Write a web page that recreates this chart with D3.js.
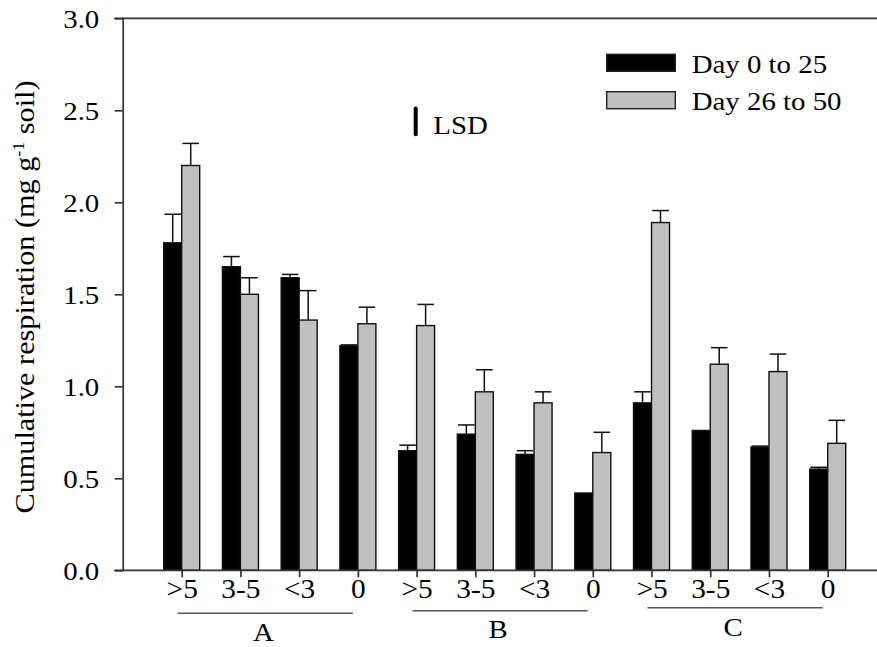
<!DOCTYPE html>
<html>
<head>
<meta charset="utf-8">
<script src="https://cdn.jsdelivr.net/npm/d3@7"></script>
<style>
  body { margin: 0; background: #fff; }
  text { font-family: "Liberation Serif", "Times New Roman", serif; fill: #000; }
</style>
</head>
<body>
<div id="chart"></div>
<script>
// data
var sizes = [">5", "3-5", "<3", "0", ">5", "3-5", "<3", "0", ">5", "3-5", "<3", "0"];
var groups = ["A", "B", "C"];
var day0to25 = [1.78, 1.65, 1.59, 1.22, 0.65, 0.74, 0.63, 0.42, 0.91, 0.76, 0.67, 0.55];
var day0to25Err = [0.155, 0.055, 0.018, 0.005, 0.03, 0.05, 0.02, 0, 0.06, 0, 0.005, 0.01];
var day26to50 = [2.20, 1.50, 1.36, 1.34, 1.33, 0.97, 0.91, 0.64, 1.89, 1.12, 1.08, 0.69];
var day26to50Err = [0.12, 0.09, 0.16, 0.09, 0.115, 0.12, 0.06, 0.11, 0.065, 0.09, 0.095, 0.125];
var seriesNames = ["Day 0 to 25", "Day 26 to 50"];
var yTicks = [0, 0.5, 1.0, 1.5, 2.0, 2.5, 3.0];
var lsd = {y: 2.37, value: 0.14};

var W = 877, H = 647;
var stretch = 1.11;   // the figure's serif type is a bit wider than Times
var fs = 26;

var svg = d3.select("#chart").append("svg")
    .attr("width", W)
    .attr("height", H);

var y = d3.scaleLinear().domain([0, 3]).range([570.3, 18.3]);
var x = d3.scalePoint().domain(d3.range(sizes.length)).range([181.7, 827.7]);
var barW = 18;
var axisX = 122.7;

function widen(sel, k) {
  k = k || stretch;
  sel.each(function() {
    var t = d3.select(this);
    var tx = +t.attr("x") || 0, ty = +t.attr("y") || 0;
    t.attr("x", 0).attr("y", 0)
     .attr("transform", "translate(" + tx + "," + ty + ") scale(" + k + ",1)");
  });
}

// bars
var series = [
  {vals: day0to25, err: day0to25Err, fill: "#000", off: -barW},
  {vals: day26to50, err: day26to50Err, fill: "#c0c0c0", off: 0}
];

series.forEach(function(s) {
  var g = svg.append("g");
  g.selectAll("rect")
    .data(s.vals)
    .enter()
    .append("rect")
      .attr("x", function(d, i) { return x(i) + s.off; })
      .attr("y", function(d) { return y(d); })
      .attr("width", barW)
      .attr("height", function(d) { return y(0) - y(d); })
      .attr("fill", s.fill)
      .attr("stroke", "#111")
      .attr("stroke-width", 1.4);

  // upper error bars
  var e = g.selectAll("g.err")
    .data(s.vals.map(function(v, i) { return {v: v, e: s.err[i], i: i}; })
                .filter(function(d) { return d.e > 0; }))
    .enter()
    .append("g").attr("class", "err");
  e.append("line")
    .attr("x1", function(d) { return x(d.i) + s.off + barW / 2; })
    .attr("x2", function(d) { return x(d.i) + s.off + barW / 2; })
    .attr("y1", function(d) { return y(d.v); })
    .attr("y2", function(d) { return y(d.v + d.e); })
    .attr("stroke", "#111").attr("stroke-width", 1.5);
  e.append("line")
    .attr("x1", function(d) { return x(d.i) + s.off + 0.7; })
    .attr("x2", function(d) { return x(d.i) + s.off + barW - 0.7; })
    .attr("y1", function(d) { return y(d.v + d.e); })
    .attr("y2", function(d) { return y(d.v + d.e); })
    .attr("stroke", "#111").attr("stroke-width", 1.5);
});

// y axis
var yAxis = svg.append("g")
    .attr("transform", "translate(" + axisX + ",0)")
    .call(d3.axisLeft(y).tickValues(yTicks).tickSize(8).tickSizeOuter(0)
            .tickPadding(15.4).tickFormat(d3.format(".1f")));
yAxis.attr("font-size", null).attr("font-family", null);
yAxis.selectAll("path, line").attr("stroke", "#333").attr("stroke-width", 1.7);
yAxis.selectAll("text").style("font-size", fs + "px").attr("dy", "0.34em").call(widen);

// x axis
var xAxis = svg.append("g")
    .attr("transform", "translate(0," + y(0) + ")")
    .call(d3.axisBottom(x).tickSize(7).tickSizeOuter(0).tickPadding(1)
            .tickFormat(function(i) { return sizes[i]; }));
xAxis.attr("font-size", null).attr("font-family", null);
xAxis.select(".domain").remove();
xAxis.selectAll("line").attr("stroke", "#333").attr("stroke-width", 1.7);
xAxis.selectAll("text").style("font-size", "28px").call(widen, 1.05);

// baseline and top frame line
[0, 3].forEach(function(v) {
  svg.append("line")
    .attr("x1", 114.3).attr("x2", W)
    .attr("y1", y(v)).attr("y2", y(v))
    .attr("stroke", "#333").attr("stroke-width", 1.7);
});

// group lines and labels
var groupLineY = [613.3, 610.7, 607.7];
var groupTextY = [640.5, 637.5, 635.5];
groups.forEach(function(gname, k) {
  var x0 = x(k * 4) - 4, x1 = x(k * 4 + 3) - 5;
  svg.append("line")
    .attr("x1", x0).attr("x2", x1)
    .attr("y1", groupLineY[k]).attr("y2", groupLineY[k])
    .attr("stroke", "#555").attr("stroke-width", 1.6);
  svg.append("text")
    .attr("x", (x0 + x1) / 2 - 2)
    .attr("y", groupTextY[k])
    .attr("text-anchor", "middle")
    .style("font-size", fs + "px")
    .text(gname)
    .call(widen);
});

// y axis title
var title = svg.append("text")
    .attr("transform", "translate(34,297) rotate(-90) scale(1.12,1)")
    .attr("text-anchor", "middle")
    .style("font-size", "27px");
title.append("tspan").text("Cumulative respiration (mg g");
title.append("tspan").attr("dy", -10).style("font-size", "16px").text("-1");
title.append("tspan").attr("dy", 10).text(" soil)");

// LSD marker
svg.append("line")
    .attr("x1", 415.7).attr("x2", 415.7)
    .attr("y1", y(lsd.y)).attr("y2", y(lsd.y + lsd.value))
    .attr("stroke", "#000").attr("stroke-width", 4).attr("stroke-linecap", "round");
svg.append("text")
    .attr("x", 433.3).attr("y", 134)
    .style("font-size", fs + "px")
    .text("LSD")
    .call(widen);

// legend
var legend = svg.append("g");
seriesNames.forEach(function(name, k) {
  var ly = [54.3, 91.7][k];
  legend.append("rect")
    .attr("x", 606.7).attr("y", ly)
    .attr("width", 68.6).attr("height", 17)
    .attr("fill", series[k].fill)
    .attr("stroke", "#222").attr("stroke-width", 1.4);
  legend.append("text")
    .attr("x", 691.7).attr("y", ly + 18.3)
    .style("font-size", fs + "px")
    .text(name)
    .call(widen);
});
</script>
</body>
</html>
